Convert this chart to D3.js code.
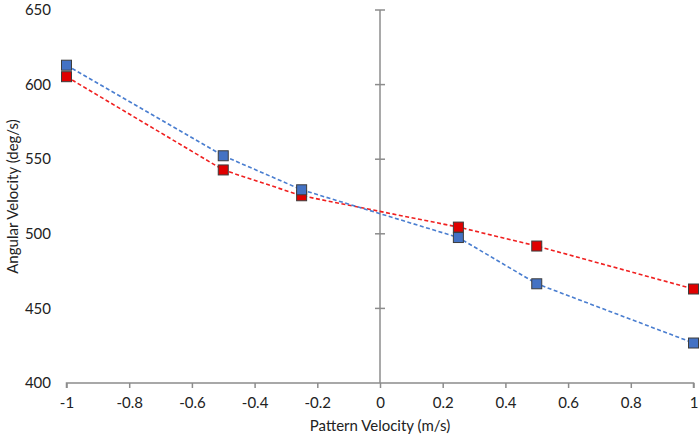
<!DOCTYPE html>
<html><head><meta charset="utf-8">
<script src="https://cdn.jsdelivr.net/npm/d3@7"></script>
<style>body{margin:0;background:#fff}svg{display:block}text{font-family:Lato,"Open Sans",sans-serif;fill:#222}</style>
</head><body>
<svg id="c" width="700" height="441"></svg>
<script>
const xValues = [-1, -0.5, -0.25, 0.25, 0.5, 1];
const blueSeries = [613, 552.3, 529.5, 497.5, 466.5, 426.8];
const redSeries = [605.3, 542.8, 525.5, 504.5, 491.8, 463];
const xTicks = [-1, -0.8, -0.6, -0.4, -0.2, 0, 0.2, 0.4, 0.6, 0.8, 1];
const yTicks = [400, 450, 500, 550, 600, 650];
const xTitle = "Pattern Velocity (m/s)";
const yTitle = "Angular Velocity (deg/s)";

const svg = d3.select("#c");
const x = d3.scaleLinear().domain([-1, 1]).range([66.5, 693.5]);
const y = d3.scaleLinear().domain([400, 650]).range([383, 10]);
const axisColor = "#8c8c8c";
const fs = 15;

// x axis at bottom
const gx = svg.append("g").attr("transform", `translate(0,${y(400)})`)
  .call(d3.axisBottom(x).tickValues(xTicks).tickSize(5).tickPadding(9).tickFormat(d => String(d)));
gx.select(".domain").attr("stroke", axisColor).attr("stroke-width", 1.5).attr("d", `M${x(-1)},5V0H${x(1)}V5`);
gx.selectAll(".tick line").attr("stroke", axisColor).attr("stroke-width", 1.5);
gx.selectAll(".tick text").attr("font-size", fs).attr("fill", "#222").style("font-family", "Lato, 'Open Sans', sans-serif");

// vertical axis line at x=0 with cross ticks
const gy = svg.append("g").attr("transform", `translate(${x(0)},0)`);
gy.append("line").attr("x1", 0).attr("x2", 0).attr("y1", y(650)).attr("y2", y(400))
  .attr("stroke", axisColor).attr("stroke-width", 1.5);
gy.selectAll("line.t").data(yTicks.filter(d => d > 400)).join("line").attr("class", "t")
  .attr("x1", -5).attr("x2", 5).attr("y1", d => y(d)).attr("y2", d => y(d))
  .attr("stroke", axisColor).attr("stroke-width", 1.5);

// y labels at left
svg.append("g").selectAll("text").data(yTicks).join("text")
  .attr("x", 51).attr("y", d => y(d)).attr("dy", "0.35em")
  .attr("text-anchor", "end").attr("font-size", fs).text(d => d);

// titles
svg.append("text").attr("x", (x(-1) + x(1)) / 2).attr("y", 431).attr("text-anchor", "middle")
  .attr("font-size", fs).text(xTitle);
svg.append("text").attr("transform", `translate(18,${(y(400) + y(650)) / 2}) rotate(-90)`)
  .attr("text-anchor", "middle").attr("font-size", fs).text(yTitle);

const line = d3.line().x((d, i) => x(xValues[i])).y(d => y(d));
function drawSeries(vals, lineColor, fill) {
  svg.append("path").datum(vals).attr("d", line).attr("fill", "none")
    .attr("stroke", lineColor).attr("stroke-width", 1.6).attr("stroke-dasharray", "4,2.5");
  svg.append("g").selectAll("rect").data(vals).join("rect")
    .attr("x", (d, i) => x(xValues[i]) - 5).attr("y", d => y(d) - 5)
    .attr("width", 10).attr("height", 10)
    .attr("fill", fill).attr("stroke", "#3d3d3d").attr("stroke-width", 1);
}
drawSeries(redSeries, "#f02020", "#e00000");
drawSeries(blueSeries, "#4a7ed0", "#4472c4");
</script>
</body></html>
